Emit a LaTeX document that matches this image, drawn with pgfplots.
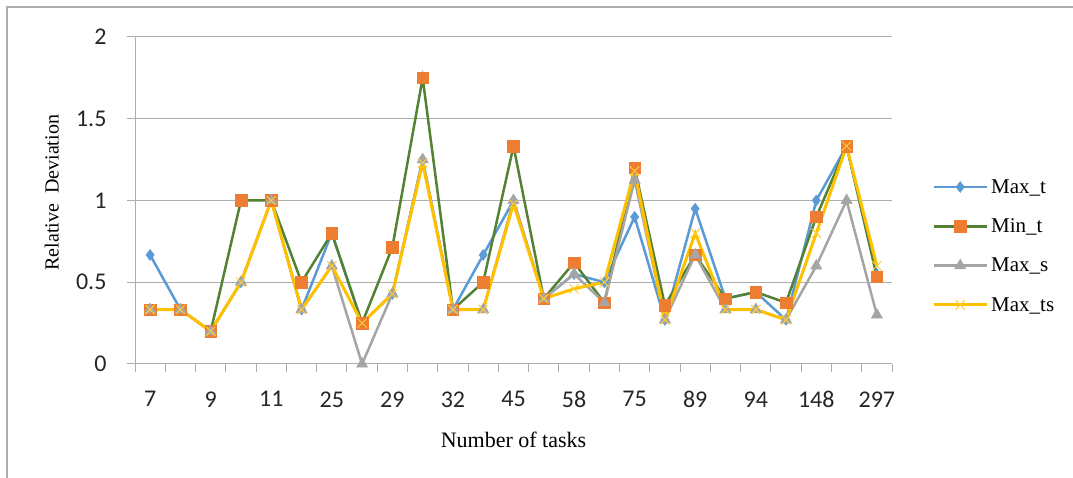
\documentclass[border=0pt]{standalone}
\usepackage{fontspec}
\setmainfont{Liberation Serif}
\newfontfamily\carlito{Carlito}
\usepackage{pgfplots}
\usepackage{pgfplotstable}
\pgfplotsset{compat=1.18}
\definecolor{cblue}{HTML}{5B9BD5}
\definecolor{cgreen}{HTML}{548235}
\definecolor{corange}{HTML}{ED7D31}
\definecolor{cgray}{HTML}{A5A5A5}
\definecolor{cyellow}{HTML}{FFC000}
\definecolor{gridc}{HTML}{ADADAD}

\pgfplotstableread{
i  maxt   mint   maxs   maxts
0  0.667  0.333  0.333  0.333
1  0.333  0.333  0.333  0.333
2  0.2    0.2    0.2    0.2
3  0.5    1.0    0.5    0.5
4  1.0    1.0    1.0    1.0
5  0.333  0.5    0.333  0.333
6  0.8    0.8    0.6    0.6
7  0.25   0.25   0.0    0.25
8  0.429  0.714  0.429  0.429
9  1.25   1.75   1.25   1.23
10 0.333  0.333  0.333  0.333
11 0.667  0.5    0.333  0.333
12 1.0    1.333  1.0    0.98
13 0.4    0.4    0.4    0.4
14 0.55   0.62   0.55   0.46
15 0.5    0.375  0.375  0.5
16 0.9    1.2    1.125  1.18
17 0.27   0.36   0.27   0.27
18 0.95   0.667  0.667  0.8
19 0.4    0.4    0.333  0.333
20 0.44   0.44   0.333  0.333
21 0.27   0.375  0.27   0.27
22 1.0    0.9    0.6    0.8
23 1.333  1.333  1.0    1.333
24 0.55   0.533  0.3    0.6
}\datatable

\begin{document}
\begin{tikzpicture}
\path[use as bounding box] (0pt,0pt) rectangle (1073pt,478pt);
\draw[gridc, line width=1.2pt] (7pt,0pt) -- (7pt,471pt) -- (1073pt,471pt);
\begin{axis}[
  at={(135pt,114pt)}, anchor=south west,
  scale only axis, width=757pt, height=327pt,
  xmin=-0.5, xmax=24.5, ymin=0, ymax=2,
  axis x line*=bottom, axis y line*=left,
  axis line style={gridc, line width=1pt},
  every tick/.style={gridc, line width=1pt},
  tick align=outside, major tick length=8pt,
  xtick={-0.5,0.5,...,24.5}, xticklabels={},
  extra x ticks={0,2,4,6,8,10,12,14,16,18,20,22,24},
  extra x tick labels={7,9,11,25,29,32,45,58,75,89,94,148,297},
  extra x tick style={major tick length=0pt, grid=none,
     tick label style={font=\carlito\fontsize{24}{28}\selectfont, text=black!85, anchor=north, yshift=-24pt}},
  ytick={0,0.5,1,1.5,2}, yticklabels={0,0.5,1,1.5,2},
  yticklabel style={font=\carlito\fontsize{24}{28}\selectfont, text=black!85, anchor=east, xshift=-17pt},
  ymajorgrids, grid style={gridc, line width=1pt},
  xlabel={Number of tasks},
  xlabel style={at={(axis description cs:0.5,-0.231)}, anchor=center, font=\fontsize{22}{26}\selectfont},
  legend style={at={(axis description cs:1,0.361)}, anchor=west, xshift=40pt,
     draw=none, fill=none, font=\fontsize{21}{25}\selectfont, row sep=18pt,
     inner sep=0pt, nodes={inner sep=3pt}},
  legend cell align=left,
  legend image code/.code={\draw[#1] (0pt,0pt) -- (53pt,0pt); \draw[#1] plot coordinates {(26.5pt,0pt)};},
  clip=false,
]
\addplot[cblue, line width=2.5pt, mark=diamond*, mark size=5.5pt, mark options={fill=cblue, draw=cblue, line width=0.5pt}] table[x=i, y=maxt] {\datatable};
\addlegendentry{Max\_t}
\addplot[cgreen, line width=2.5pt, mark=square*, mark size=5.8pt, mark options={fill=corange, draw=corange, line width=0.5pt}] table[x=i, y=mint] {\datatable};
\addlegendentry{Min\_t}
\addplot[cgray, line width=2.5pt, mark=triangle*, mark size=6.5pt, mark options={fill=cgray, draw=cgray, line width=0.5pt}] table[x=i, y=maxs] {\datatable};
\addlegendentry{Max\_s}
\addplot[cyellow, line width=3pt, mark=x, mark size=6.5pt, mark options={draw=cyellow!80, line width=1pt}] table[x=i, y=maxts] {\datatable};
\addlegendentry{Max\_ts}
\node[rotate=90, font=\fontsize{20}{24}\selectfont] at (axis description cs:-0.11,0.524) {Relative\ \ Deviation};
\end{axis}
\end{tikzpicture}
\end{document}
